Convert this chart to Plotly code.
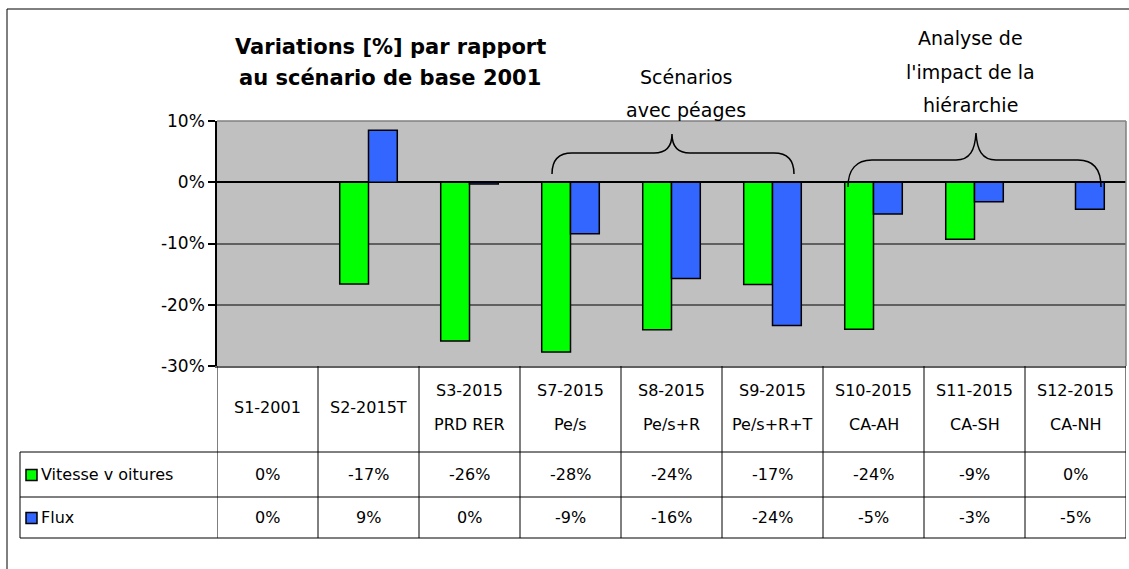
import plotly.graph_objects as go

categories = ["S1-2001", "S2-2015T", "S3-2015<br>PRD RER", "S7-2015<br>Pe/s", "S8-2015<br>Pe/s+R",
              "S9-2015<br>Pe/s+R+T", "S10-2015<br>CA-AH", "S11-2015<br>CA-SH", "S12-2015<br>CA-NH"]
vitesse = [0, -16.6, -25.9, -27.7, -24.1, -16.7, -24.0, -9.3, 0]
flux = [0, 8.5, -0.3, -8.4, -15.7, -23.4, -5.2, -3.2, -4.4]
vitesse_labels = ["0%", "-17%", "-26%", "-28%", "-24%", "-17%", "-24%", "-9%", "0%"]
flux_labels = ["0%", "9%", "0%", "-9%", "-16%", "-24%", "-5%", "-3%", "-5%"]
series_names = ["Vitesse v oitures", "Flux"]
colors = ["#00FF00", "#3366FF"]
yticks = [-30, -20, -10, 0, 10]
title_text = "Variations [%] par rapport<br>au scénario de base 2001"
group1_text = "Scénarios<br>avec péages"
group2_text = "Analyse de<br>l'impact de la<br>hiérarchie"

FONT = "DejaVu Sans"
W, H = 1129, 569
L, R, T, B = 217, 1126, 121, 366


def px(x):
    return (x - L) / (R - L)


def py(y):
    return (B - y) / (B - T)


def path(points_cmds):
    out = []
    for cmd, pts in points_cmds:
        s = cmd + " " + " ".join(f"{px(a):.5f},{py(b):.5f}" for a, b in pts)
        out.append(s)
    return " ".join(out)


xs = list(range(len(categories)))
fig = go.Figure()
for name, vals, col in zip(series_names, [vitesse, flux], colors):
    fig.add_trace(go.Bar(x=xs, y=vals, name=name, marker=dict(color=col, line=dict(color="black", width=1.5)),
                         showlegend=False))

shapes = []
# outer chart border
shapes.append(dict(type="rect", xref="paper", yref="paper", x0=px(7), x1=px(1140), y0=py(9), y1=py(580),
                   line=dict(color="black", width=1), fillcolor="rgba(0,0,0,0)", layer="below"))
# plot top / right borders
shapes.append(dict(type="line", xref="paper", yref="paper", x0=0, x1=1, y0=1, y1=1, line=dict(color="#808080", width=1.5)))
shapes.append(dict(type="line", xref="paper", yref="paper", x0=1, x1=1, y0=0, y1=1, line=dict(color="#808080", width=1.5)))

# braces
b1 = path([("M", [(552, 174)]), ("C", [(552, 160), (558, 153), (572, 153)]), ("L", [(654, 153)]),
           ("C", [(666, 153), (672, 147), (672, 134)]), ("C", [(672, 147), (678, 153), (690, 153)]),
           ("L", [(774, 153)]), ("C", [(788, 153), (794, 160), (794, 174)])])
b2 = path([("M", [(848, 187)]), ("C", [(848, 170), (856, 160), (872, 160)]), ("L", [(956, 160)]),
           ("C", [(970, 160), (975, 150), (976, 133)]), ("C", [(977, 150), (982, 160), (996, 160)]),
           ("L", [(1078, 160)]), ("C", [(1094, 160), (1101, 170), (1101, 187)])])
for p in (b1, b2):
    shapes.append(dict(type="path", xref="paper", yref="paper", path=p, line=dict(color="black", width=1.5)))

# table lines
ROW0, ROW1, ROW2, ROW3 = 366, 452, 497, 538
TL = 20
for k in range(len(categories) + 1):
    shapes.append(dict(type="line", xref="x", yref="paper", x0=k - 0.5, x1=k - 0.5, y0=py(ROW0), y1=py(ROW3),
                       line=dict(color="black", width=1)))
for yy in (ROW1, ROW2, ROW3):
    shapes.append(dict(type="line", xref="paper", yref="paper", x0=px(TL), x1=1, y0=py(yy), y1=py(yy),
                       line=dict(color="black", width=1)))
shapes.append(dict(type="line", xref="paper", yref="paper", x0=px(TL), x1=px(TL), y0=py(ROW1), y1=py(ROW3),
                   line=dict(color="black", width=1)))
# legend keys
for i, col in enumerate(colors):
    yc = (ROW1 + ROW2) / 2 if i == 0 else (ROW2 + ROW3) / 2
    shapes.append(dict(type="rect", xref="paper", yref="paper", x0=px(26), x1=px(37), y0=py(yc + 6), y1=py(yc - 5),
                       fillcolor=col, line=dict(color="black", width=1.5)))

ann = []
tfont = dict(family=FONT, size=16, color="black")


def A(x, y, text, xref="paper", font=tfont, xanchor="center"):
    return dict(x=x, xref=xref, y=y, yref="paper", text=text, showarrow=False, font=font,
                xanchor=xanchor, yanchor="middle", align="center")


def multiline(x, yc_px, text, spacing, xref="paper", font=tfont):
    lines = text.split("<br>")
    n = len(lines)
    for i, ln in enumerate(lines):
        yy = yc_px + (i - (n - 1) / 2) * spacing
        ann.append(A(x, py(yy), ln, xref=xref, font=font))


for k, c in enumerate(categories):
    multiline(k, (ROW0 + ROW1) / 2 - 2, c, 34, xref="x")
    ann.append(A(k, py((ROW1 + ROW2) / 2), vitesse_labels[k], xref="x"))
    ann.append(A(k, py((ROW2 + ROW3) / 2), flux_labels[k], xref="x"))
for i, n in enumerate(series_names):
    yc = (ROW1 + ROW2) / 2 if i == 0 else (ROW2 + ROW3) / 2
    ann.append(A(px(39), py(yc), n, xanchor="left"))

tl = title_text.split("<br>")
multiline(px(390), 63, "<br>".join(f"<b>{t}</b>" for t in tl), 31, font=dict(family=FONT, size=21, color="black"))
multiline(px(686), 93, group1_text, 33, font=dict(family=FONT, size=19, color="black"))
multiline(px(970), 72, group2_text, 33.5, font=dict(family=FONT, size=19, color="black"))

fig.update_layout(
    width=W, height=H, margin=dict(l=L, r=W - R, t=T, b=H - B, autoexpand=False),
    paper_bgcolor="white", plot_bgcolor="#C0C0C0",
    barmode="group", bargap=0.43, bargroupgap=0,
    shapes=shapes, annotations=ann,
    font=dict(family=FONT, color="black"),
)
fig.update_xaxes(range=[-0.5, len(categories) - 0.5], showticklabels=False, showgrid=False, zeroline=False,
                 showline=True, linecolor="#606060", linewidth=1.5, ticks="")
fig.update_yaxes(range=[-30, 10], tickvals=yticks, ticktext=[f"{v}%" for v in yticks],
                 tickfont=dict(family=FONT, size=17, color="black"), showgrid=True, gridcolor="#606060",
                 gridwidth=1.5, zeroline=True, zerolinecolor="black", zerolinewidth=1.5, showline=True,
                 linecolor="black", linewidth=1.5, ticks="outside", ticklen=7, tickcolor="black", tickwidth=1.5)

fig.write_html("out.html", config={"displayModeBar": False},
               post_script="document.body.style.margin='0';document.body.style.padding='0';")
